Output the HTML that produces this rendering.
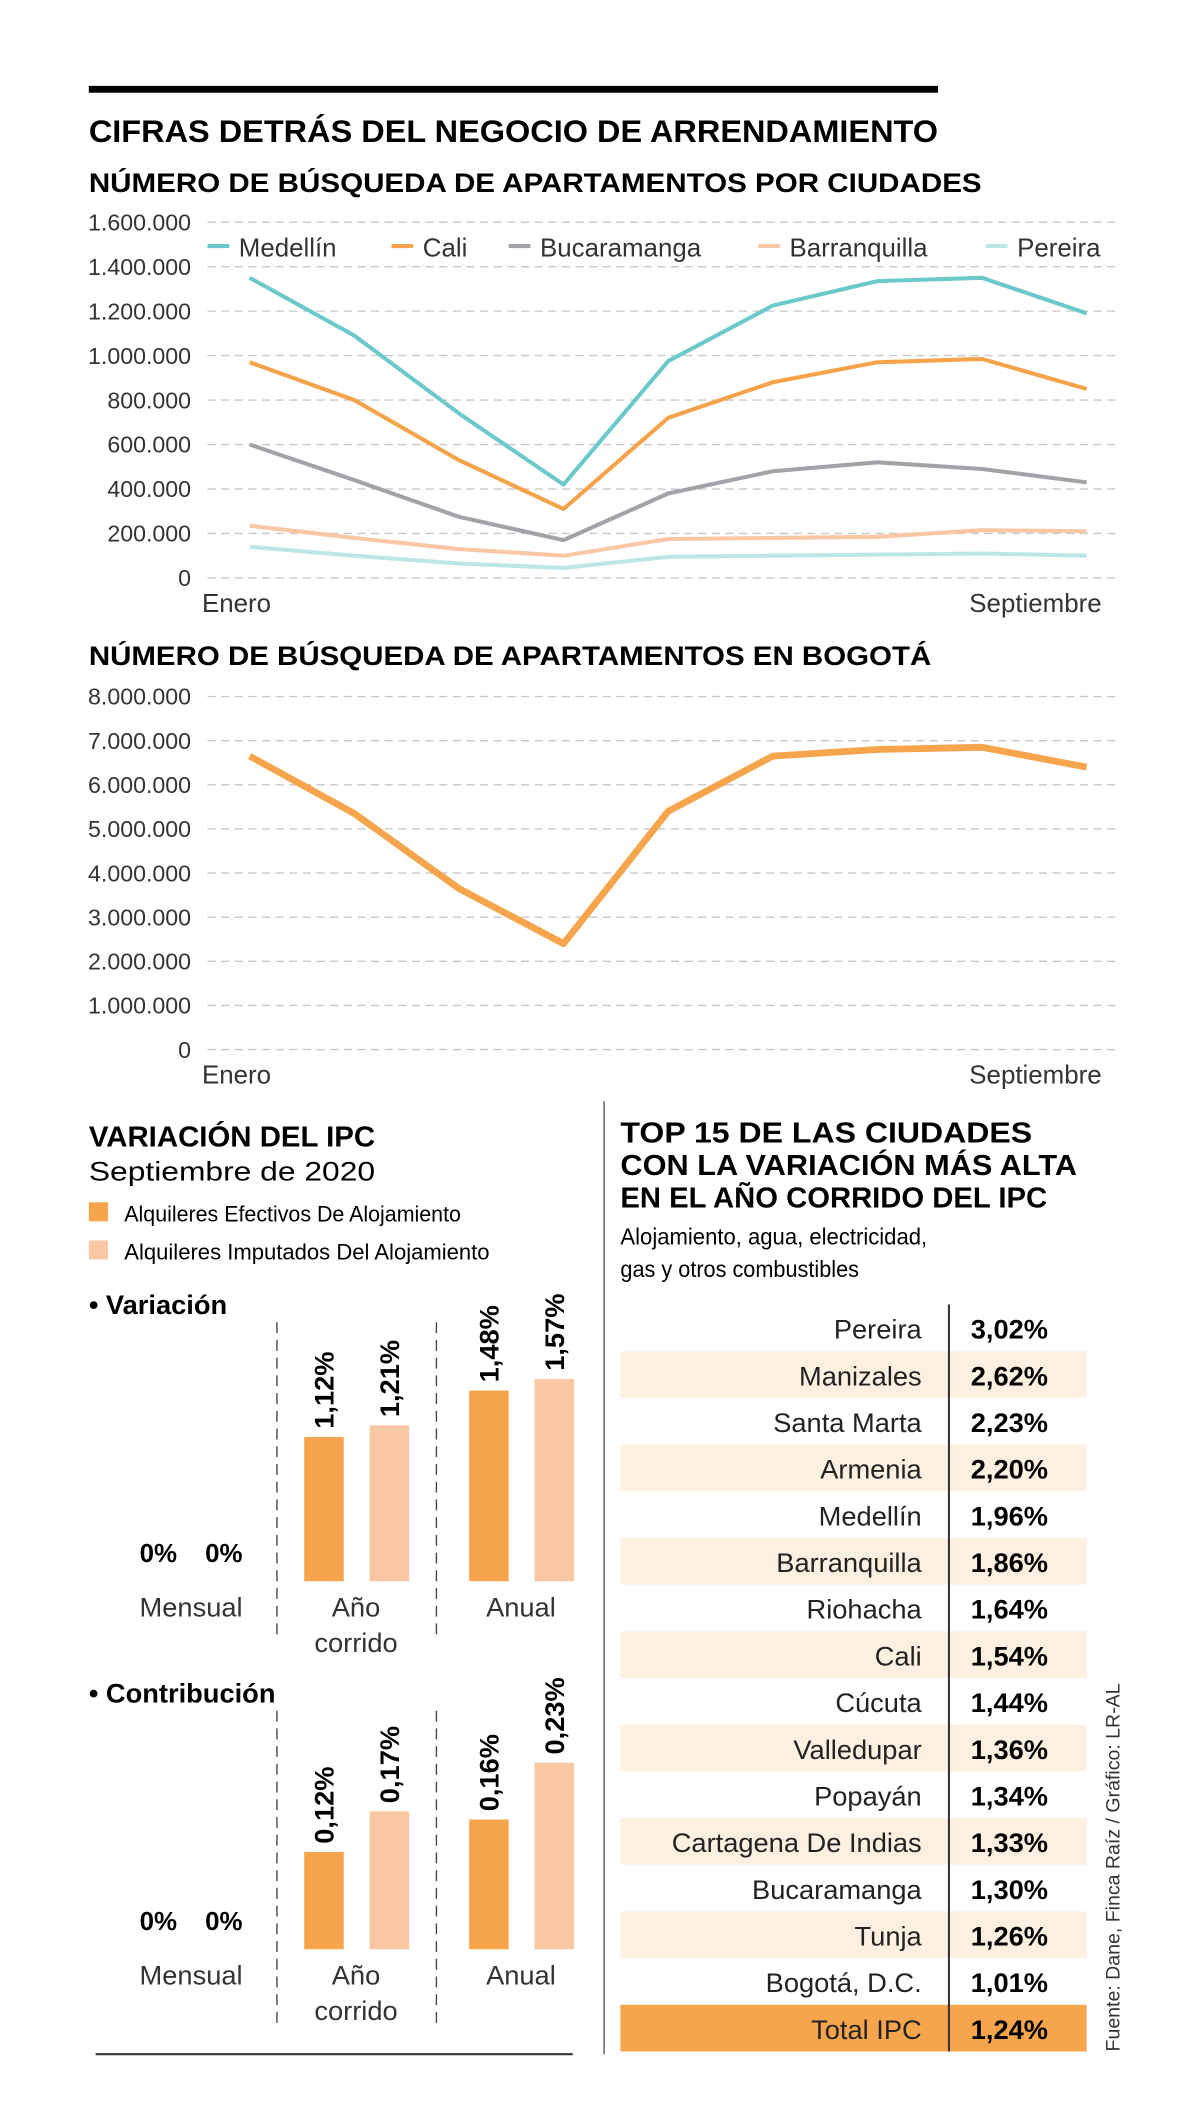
<!DOCTYPE html>
<html><head><meta charset="utf-8"><style>
html,body{margin:0;padding:0;background:#fff}
svg{display:block}
text{font-family:"Liberation Sans",sans-serif}
</style></head><body>
<svg id="root" xmlns="http://www.w3.org/2000/svg" width="1200" height="2121" viewBox="0 0 880 1556">
<rect x="65" y="63" width="623" height="5" fill="#000"/>
<text x="65" y="104" font-size="23" font-weight="bold" textLength="623" lengthAdjust="spacingAndGlyphs">CIFRAS DETRÁS DEL NEGOCIO DE ARRENDAMIENTO</text>
<text x="65" y="141" font-size="20" font-weight="bold" textLength="655" lengthAdjust="spacingAndGlyphs">NÚMERO DE BÚSQUEDA DE APARTAMENTOS POR CIUDADES</text>
<g id="chart1"></g>
<text x="65" y="488" font-size="20" font-weight="bold" textLength="618" lengthAdjust="spacingAndGlyphs">NÚMERO DE BÚSQUEDA DE APARTAMENTOS EN BOGOTÁ</text>
<g id="chart2"></g>

<text x="65" y="841" font-size="21" font-weight="bold" textLength="210" lengthAdjust="spacingAndGlyphs">VARIACIÓN DEL IPC</text>
<text x="65" y="866" font-size="20" textLength="210" lengthAdjust="spacingAndGlyphs">Septiembre de 2020</text>
<rect x="65" y="882" width="14" height="14" fill="#f6a54c"/>
<text x="91" y="896" font-size="16" textLength="247" lengthAdjust="spacingAndGlyphs">Alquileres Efectivos De Alojamiento</text>
<rect x="65" y="910" width="14" height="14" fill="#f9c7a3"/>
<text x="91" y="924" font-size="16" textLength="268" lengthAdjust="spacingAndGlyphs">Alquileres Imputados Del Alojamiento</text>
<g id="bars"></g>
<line x1="70" y1="1507" x2="420" y2="1507" stroke="#333" stroke-width="1.5"/>
<line x1="443" y1="808" x2="443" y2="1507" stroke="#555" stroke-width="1"/>

<text font-size="21" font-weight="bold">
<tspan x="455" y="838" textLength="302" lengthAdjust="spacingAndGlyphs">TOP 15 DE LAS CIUDADES</tspan>
<tspan x="455" y="862" textLength="335" lengthAdjust="spacingAndGlyphs">CON LA VARIACIÓN MÁS ALTA</tspan>
<tspan x="455" y="886" textLength="313" lengthAdjust="spacingAndGlyphs">EN EL AÑO CORRIDO DEL IPC</tspan>
</text>
<text font-size="17">
<tspan x="455" y="913" textLength="225" lengthAdjust="spacingAndGlyphs">Alojamiento, agua, electricidad,</tspan>
<tspan x="455" y="937" textLength="175" lengthAdjust="spacingAndGlyphs">gas y otros combustibles</tspan>
</text>
<g id="table"></g>
<text transform="translate(821,1505) rotate(-90)" font-size="14" fill="#333" textLength="270" lengthAdjust="spacingAndGlyphs">Fuente: Dane, Finca Raíz / Gráfico: LR-AL</text>
</svg>
<script>
const NS="http://www.w3.org/2000/svg";
// ---- Chart 1 data ----
const months=["Ene","Feb","Mar","Abr","May","Jun","Jul","Ago","Sep"];
const cityNames=["Medellín","Cali","Bucaramanga","Barranquilla","Pereira"];
const medellin=[1350000,1090000,740000,420000,975000,1225000,1335000,1350000,1190000];
const cali=[970000,800000,530000,310000,720000,880000,970000,985000,850000];
const bucaramanga=[600000,440000,275000,170000,380000,480000,520000,490000,430000];
const barranquilla=[235000,180000,130000,100000,175000,180000,185000,215000,210000];
const pereira=[140000,100000,65000,45000,95000,100000,105000,110000,100000];
const ticks1=[0,200000,400000,600000,800000,1000000,1200000,1400000,1600000];
// ---- Chart 2 data ----
const bogota=[6650000,5350000,3650000,2400000,5400000,6650000,6800000,6850000,6400000];
const ticks2=[0,1000000,2000000,3000000,4000000,5000000,6000000,7000000,8000000];
// ---- Bar data ----
const barGroups=["Mensual","Año corrido","Anual"];
const variacionEfectivos=[0,1.12,1.48];
const variacionImputados=[0,1.21,1.57];
const contribEfectivos=[0,0.12,0.16];
const contribImputados=[0,0.17,0.23];
// ---- Table data ----
const tableCities=["Pereira","Manizales","Santa Marta","Armenia","Medellín","Barranquilla","Riohacha","Cali","Cúcuta","Valledupar","Popayán","Cartagena De Indias","Bucaramanga","Tunja","Bogotá, D.C.","Total IPC"];
const tableValues=["3,02%","2,62%","2,23%","2,20%","1,96%","1,86%","1,64%","1,54%","1,44%","1,36%","1,34%","1,33%","1,30%","1,26%","1,01%","1,24%"];

function el(tag,attrs,parent,txt){const e=document.createElementNS(NS,tag);for(const k in attrs)e.setAttribute(k,attrs[k]);if(txt!==undefined)e.textContent=txt;parent.appendChild(e);return e;}
function fmt(v){return v===0?"0":v.toLocaleString("de-DE");}

function lineChart(g,series,colors,widths,ticks,yTop,yBot,maxV,names){
  const x=i=>183+i*(797-183)/(months.length-1);
  const y=v=>yBot-(v/maxV)*(yBot-yTop);
  ticks.forEach(t=>{
    const l=el("line",{x1:152,x2:820,y1:y(t),y2:y(t),stroke:"#c8c8c8","stroke-width":1,"stroke-dasharray":"6,4"},g);
    
    
    const tx=el("text",{x:140,y:y(t)+6,"font-size":17,"text-anchor":"end",fill:"#333"},g,fmt(t));
    
    
  });
  series.forEach((s,k)=>{
    const p=el("polyline",{points:s.map((v,i)=>x(i)+","+y(v)).join(" "),fill:"none",stroke:colors[k],"stroke-width":widths[k],"stroke-linejoin":"round"},g);
    
    
  });
  const e1=el("text",{x:148,y:yBot+25,"font-size":19,fill:"#333"},g,"Enero");
  
  
  const e2=el("text",{x:808,y:yBot+25,"font-size":19,"text-anchor":"end",fill:"#333"},g,"Septiembre");
  
  
}
const c1=document.getElementById("chart1");
const colors1=["#6cc9c9","#f5a34a","#a4a2a8","#f9c7a3","#bde6e6"];
lineChart(c1,[medellin,cali,bucaramanga,barranquilla,pereira],colors1,[3,3,3,3,3],ticks1,163,424,1600000,cityNames);
const legX=[152,287,373,556,723];
cityNames.forEach((n,i)=>{
  const sw=el("rect",{x:legX[i],y:179,width:16,height:3,fill:colors1[i]},c1);
  
  
  const t=el("text",{x:legX[i]+23,y:188,"font-size":19,fill:"#333"},c1,n);
  
  
});
lineChart(document.getElementById("chart2"),[bogota],["#f6a54c"],[5],ticks2,511,770,8000000,["Bogota"]);

// ---- bars ----
const bg=document.getElementById("bars");
function barPanel(label,labelY,base,eff,imp,scale,dashTop,dashBot){
  const h=el("text",{x:65,y:labelY,"font-size":20,"font-weight":"bold"},bg,"• "+label);
  
  
  [203,320].forEach(dx=>{
    const d=el("line",{x1:dx,x2:dx,y1:dashTop,y2:dashBot,stroke:"#444","stroke-width":1,"stroke-dasharray":"8,5"},bg);
    
    
  });
  const centers=[140,261,382];
  barGroups.forEach((gname,i)=>{
    [[eff[i],"#f6a54c",-38],[imp[i],"#f9c7a3",10]].forEach(([v,c,off])=>{
      const bx=centers[i]+off, bw=29, bh=v*scale;
      if(v>0){
        const r=el("rect",{x:bx,y:base-bh,width:bw,height:bh,fill:c},bg);
        
        
        const t=el("text",{transform:`translate(${bx+bw/2+7},${base-bh-6}) rotate(-90)`,"font-size":20,"font-weight":"bold"},bg,v.toFixed(2).replace(".",",")+"%");
        
        
      } else {
        const t=el("text",{x:bx+14,y:base-14,"font-size":19,"font-weight":"bold","text-anchor":"middle"},bg,"0%");
        
        
      }
    });
    const parts=gname.split(" ");
    parts.forEach((p,j)=>{
      const t=el("text",{x:centers[i],y:base+26+j*26,"font-size":20,"text-anchor":"middle",fill:"#333"},bg,p);
      
      
    });
  });
}
barPanel("Variación",964,1160,variacionEfectivos,variacionImputados,94.5,970,1202);
barPanel("Contribución",1249,1430,contribEfectivos,contribImputados,595,1255,1487);

// ---- table ----
const tg=document.getElementById("table");
const rowH=34.25, top0=957;
tableCities.forEach((c,i)=>{
  const y0=top0+i*rowH;
  const total=i===tableCities.length-1;
  if(total||i%2===1){
    const r=el("rect",{x:455,y:y0,width:342,height:rowH,fill:total?"#f6a54c":"#fdf0e1"},tg);
    
    
  }
  const t=el("text",{x:676,y:y0+25,"font-size":20,"text-anchor":"end",fill:"#222"},tg,c);
  
  
  const v=el("text",{x:712,y:y0+25,"font-size":20,"font-weight":"bold"},tg,tableValues[i]);
  
  
});
const vl=el("line",{x1:696,x2:696,y1:top0,y2:top0+rowH*tableCities.length,stroke:"#333","stroke-width":1.5},tg);


</script>
</body></html>
